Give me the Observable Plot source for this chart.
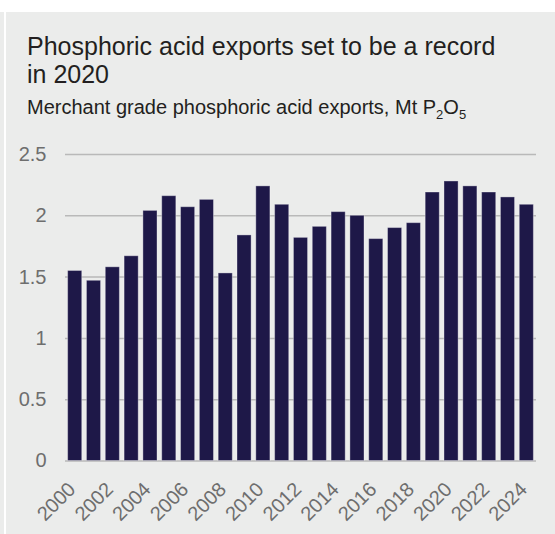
<!DOCTYPE html>
<html>
<head>
<meta charset="utf-8">
<script src="https://cdn.jsdelivr.net/npm/d3@7"></script>
<script src="https://cdn.jsdelivr.net/npm/@observablehq/plot@0.6"></script>
<style>
  html, body { margin: 0; padding: 0; }
  body {
    width: 555px; height: 534px; position: relative; overflow: hidden;
    background: #ebeceb;
    font-family: "Liberation Sans", Arial, sans-serif;
  }
  #topband { position: absolute; left: 0; top: 0; width: 555px; height: 12px; background: #fff; }
  #edge { position: absolute; left: 4px; top: 0; width: 2px; height: 534px; background: #fff; }
  #title {
    position: absolute; left: 27px; top: 32px; width: 490px;
    font-size: 25px; line-height: 28px; color: #231f20;
  }
  #subtitle {
    position: absolute; left: 27px; top: 95px; width: 520px;
    font-size: 20px; line-height: 24px; color: #231f20; white-space: nowrap;
  }
  #subtitle sub { font-size: 13px; vertical-align: -5px; line-height: 0; }
  #chart { position: absolute; left: 0; top: 130px; }
</style>
</head>
<body>
<div id="topband"></div>
<div id="edge"></div>
<div id="title">Phosphoric acid exports set to be a record in 2020</div>
<div id="subtitle">Merchant grade phosphoric acid exports, Mt P<sub>2</sub>O<sub>5</sub></div>
<div id="chart"></div>
<script>
// Merchant grade phosphoric acid exports by year, Mt P2O5
const years = [2000, 2001, 2002, 2003, 2004, 2005, 2006, 2007, 2008, 2009,
               2010, 2011, 2012, 2013, 2014, 2015, 2016, 2017, 2018, 2019,
               2020, 2021, 2022, 2023, 2024];
const exportsMt = [1.55, 1.47, 1.58, 1.67, 2.04, 2.16, 2.07, 2.13, 1.53, 1.84,
                   2.24, 2.09, 1.82, 1.91, 2.03, 2.00, 1.81, 1.90, 1.94, 2.19,
                   2.28, 2.24, 2.19, 2.15, 2.09];
const yTicks = [0, 0.5, 1, 1.5, 2, 2.5];
const xTickYears = [2000, 2002, 2004, 2006, 2008, 2010, 2012, 2014, 2016, 2018, 2020, 2022, 2024];

const rows = years.map((year, i) => ({year, value: exportsMt[i]}));

const chart = Plot.plot({
  width: 555,
  height: 404,
  marginLeft: 65,
  marginRight: 19,
  marginTop: 24,
  marginBottom: 73.5,
  style: {background: "transparent", fontFamily: "Liberation Sans, Arial, sans-serif", fontSize: "19px", color: "#6e6e6e"},
  x: {type: "band", domain: years, paddingInner: 0.25, paddingOuter: 0.14, round: false},
  y: {domain: [0, 2.5]},
  marks: [
    Plot.gridY(yTicks, {stroke: "#b9b9b9", strokeOpacity: 1, strokeWidth: 1.5}),
    Plot.barY(rows, {x: "year", y: "value", fill: "#1e1848", stroke: "#ffffff", strokeOpacity: 0.35, strokeWidth: 1}),
    Plot.axisY(yTicks, {tickSize: 0, tickPadding: 19, tickFormat: d => String(d), label: null, fill: "#6e6e6e", fontSize: 20}),
    Plot.axisX(xTickYears, {tickSize: 0, tickRotate: -45, tickPadding: 17, dx: -3, dy: 8, tickFormat: d => String(d), label: null, fill: "#6e6e6e", fontSize: 20})
  ]
});
document.getElementById("chart").appendChild(chart);
</script>
</body>
</html>
